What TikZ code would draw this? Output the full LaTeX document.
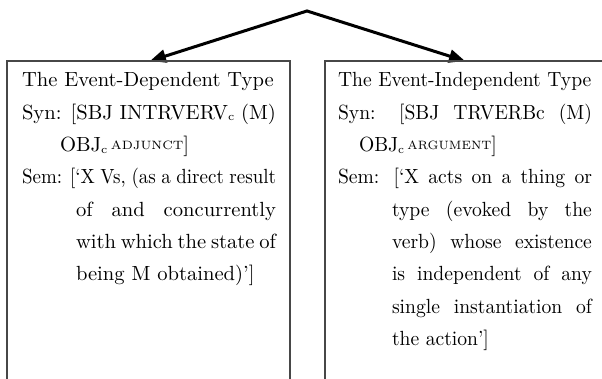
\documentclass[tikz,border=0pt]{standalone}
\usepackage{graphicx}
\usetikzlibrary{arrows.meta}
\newcommand{\mysub}[1]{\raisebox{-0.75pt}{\fontsize{5.6}{6}\selectfont #1}}
\newcommand{\mysup}[1]{\raisebox{0.8pt}{\fontsize{5.9}{6}\selectfont #1}}
\newcommand{\jline}[2]{\makebox[#1][s]{#2}}
% horizontal scale, then text; vertical scale fixed
\newcommand{\zz}[2]{\scalebox{#1}[2.05]{#2}}
\tikzset{
  boxline/.style={draw=black!72, line width=1.4pt},
  branch/.style={line width=3pt, line join=miter, {Triangle[length=16pt,width=13pt]}-{Triangle[length=16pt,width=13pt]}},
  txt/.style={anchor=base west, inner sep=0pt, outer sep=0pt, font=\fontsize{10}{12}\selectfont},
}
\begin{document}
\begin{tikzpicture}[x=1pt,y=1pt]
\useasboundingbox (0,0) rectangle (602,379);
% connector
\coordinate (apex) at (307,368);
\coordinate (ltip) at (150,318);
\coordinate (rtip) at (465,318);
\draw[branch] (ltip) -- (apex) -- (rtip);
% boxes (open at the bottom)
\coordinate (lbl) at (7,-3);
\coordinate (ltl) at (7,318);
\coordinate (ltr) at (290,318);
\coordinate (lbr) at (290,-3);
\draw[boxline] (lbl) -- (ltl) -- (ltr) -- (lbr);
\coordinate (rbl) at (325,-3);
\coordinate (rtl) at (325,318);
\coordinate (rtr) at (605,318);
\draw[boxline] (rbl) -- (rtl) -- (rtr);
% left text
\node[txt] (l1) at (22,292) {\zz{2.06}{The Event-Dependent Type}};
\node[txt] (l2) at (22,259.7) {\zz{2.06}{\jline{123.3pt}{Syn: [SBJ INTRVERV\mysub{c} (M)}}};
\node[txt] (l3) at (60,227.4) {\zz{2.06}{OBJ\mysub{c}\,\mysup{ADJUNCT}]}};
\node[txt] (l4) at (22,195.1) {\zz{1.90}{\jline{133.7pt}{Sem: [`X Vs, (as a direct result}}};
\node[txt] (l5) at (76,162.8) {\zz{2.06}{\jline{97.1pt}{of and concurrently}}};
\node[txt] (l6) at (76,130.5) {\zz{2.06}{\jline{97.1pt}{with which the state of}}};
\node[txt] (l7) at (76,98.2) {\zz{2.06}{being M obtained)']}};
% right text
\node[txt] (r1) at (338,292) {\zz{1.96}{The Event-Independent Type}};
\node[txt] (r2) at (338,259.7) {\zz{1.96}{\jline{129.6pt}{Syn: [SBJ TRVERBc (M)}}};
\node[txt] (r3) at (359,227.4) {\zz{1.96}{OBJ\mysub{c}\,\mysup{ARGUMENT}]}};
\node[txt] (r4) at (338,195.1) {\zz{1.96}{\jline{129.6pt}{Sem: [`X acts on a thing or}}};
\node[txt] (r5) at (392,162.8) {\zz{1.96}{\jline{102pt}{type (evoked by the}}};
\node[txt] (r6) at (392,130.5) {\zz{1.96}{\jline{102pt}{verb) whose existence}}};
\node[txt] (r7) at (392,98.2) {\zz{1.96}{\jline{102pt}{is independent of any}}};
\node[txt] (r8) at (392,65.9) {\zz{1.96}{\jline{102pt}{single instantiation of}}};
\node[txt] (r9) at (392,33.6) {\zz{1.96}{the action']}};
\end{tikzpicture}
\end{document}
